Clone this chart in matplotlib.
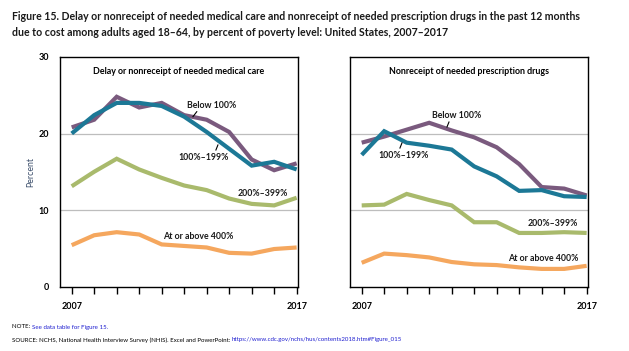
import matplotlib
matplotlib.use("Agg")
import matplotlib.pyplot as plt

plt.rcParams['font.family'] = ['Lato', 'DejaVu Sans']

years = list(range(2007, 2018))

# Delay or nonreceipt of needed medical care
care_below100 = [20.8, 21.8, 24.8, 23.4, 24.0, 22.4, 21.8, 20.2, 16.6, 15.2, 16.1]
care_100_199 = [20.0, 22.4, 24.0, 24.0, 23.6, 22.2, 20.2, 18.0, 15.8, 16.3, 15.3]
care_200_399 = [13.1, 15.0, 16.7, 15.3, 14.2, 13.2, 12.6, 11.5, 10.8, 10.6, 11.6]
care_400 = [5.4, 6.7, 7.1, 6.8, 5.5, 5.3, 5.1, 4.4, 4.3, 4.9, 5.1]

# Nonreceipt of needed prescription drugs
drug_below100 = [18.8, 19.6, 20.5, 21.4, 20.4, 19.5, 18.2, 16.0, 13.0, 12.8, 11.9]
drug_100_199 = [17.2, 20.3, 18.8, 18.4, 17.9, 15.7, 14.4, 12.5, 12.6, 11.8, 11.7]
drug_200_399 = [10.6, 10.7, 12.1, 11.3, 10.6, 8.4, 8.4, 7.0, 7.0, 7.1, 7.0]
drug_400 = [3.1, 4.3, 4.1, 3.8, 3.2, 2.9, 2.8, 2.5, 2.3, 2.3, 2.7]

series_names = ["Below 100%", "100%\u2013199%", "200%\u2013399%", "At or above 400%"]
colors = ["#7A5A7E", "#1C7896", "#A9BA6C", "#F5A75E"]
yticks = [0, 10, 20, 30]
xtick_labels = ["2007", "", "", "", "", "", "", "", "", "", "2017"]

fig = plt.figure(figsize=(6.29, 3.51), dpi=100)
W, H = 629, 351

def make_ax(left_px):
    return fig.add_axes([left_px / W, (H - 286.5) / H, 238 / W, 229.5 / H])

axL = make_ax(60)
axR = make_ax(350)

panels = [
    (axL, [care_below100, care_100_199, care_200_399, care_400],
     "Delay or nonreceipt of needed medical care",
     {0: (2013.24, 23.7), 1: (2012.84, 16.9), 2: (2015.5, 12.2), 3: (2012.61, 6.5)},
     [((2012.56, 22.85), (2012.39, 22.2)), ((2013.50, 18.5), (2013.41, 17.84))]),
    (axR, [drug_below100, drug_100_199, drug_200_399, drug_400],
     "Nonreceipt of needed prescription drugs",
     {0: (2011.22, 22.4), 1: (2008.88, 17.06), 2: (2015.5, 8.17), 3: (2015.06, 3.7)},
     [((2010.88, 21.5), (2010.79, 20.85)), ((2008.79, 18.76), (2008.70, 18.1))]),
]

for i, (ax, data, ttl, lblpos, leaders) in enumerate(panels):
    for s, c in zip(data, colors):
        ax.plot(years, s, color=c, lw=3.0, solid_joinstyle='miter', solid_capstyle='butt', zorder=3)
    ax.set_xlim(2006.48, 2017.06)
    ax.set_ylim(0, 30)
    for g in (10, 20):
        ax.axhline(g, color="#BDBDBD", lw=0.9, zorder=1)
    ax.set_xticks(years)
    ax.set_xticklabels(xtick_labels, fontsize=6.5, fontweight='bold')
    ax.tick_params(axis='x', direction='out', length=5, width=1, pad=6)
    ax.set_yticks(yticks)
    if i == 0:
        ax.set_yticklabels([str(v) for v in yticks], fontsize=6.5, fontweight='bold')
        ax.tick_params(axis='y', length=0, pad=8)
        ax.set_ylabel("Percent", fontsize=6.3, color="#3B4E6B", labelpad=2)
    else:
        ax.set_yticklabels([])
        ax.tick_params(axis='y', length=0)
    for sp in ax.spines.values():
        sp.set_linewidth(1.0)
        sp.set_color("black")
    ax.text(0.5, 0.935, ttl, transform=ax.transAxes, ha='center', va='center',
            fontsize=6.4, fontweight='bold')
    for k, (x, y) in lblpos.items():
        ax.text(x, y, series_names[k], ha='center', va='center', fontsize=6.3,
                fontweight='bold', color="#1a1a1a", zorder=4)
    for (p1, p2) in leaders:
        ax.plot([p1[0], p2[0]], [p1[1], p2[1]], color="black", lw=0.8, zorder=4)

fig.text(12 / W, 1 - 17 / H,
         "Figure 15. Delay or nonreceipt of needed medical care and nonreceipt of needed prescription drugs in the past 12 months",
         fontsize=7.6, fontweight='bold', va='center', ha='left', color="#1a1a1a")
fig.text(12 / W, 1 - 32 / H,
         "due to cost among adults aged 18\u201364, by percent of poverty level: United States, 2007\u20132017",
         fontsize=7.6, fontweight='bold', va='center', ha='left', color="#1a1a1a")

fs_foot = 4.4
t1 = fig.text(12 / W, 1 - 327 / H, "NOTE: ", fontsize=fs_foot, va='center', ha='left', color="black")
fig.canvas.draw()
bb = t1.get_window_extent()
fig.text(bb.x1 / W, 1 - 327 / H, "See data table for Figure 15.", fontsize=fs_foot, va='center', ha='left', color="#2020D0")
t2 = fig.text(12 / W, 1 - 340 / H, "SOURCE: NCHS, National Health Interview Survey (NHIS). Excel and PowerPoint: ",
              fontsize=fs_foot, va='center', ha='left', color="black")
fig.canvas.draw()
bb2 = t2.get_window_extent()
fig.text(bb2.x1 / W, 1 - 340 / H, "https://www.cdc.gov/nchs/hus/contents2018.htm#Figure_015",
         fontsize=fs_foot, va='center', ha='left', color="#2020D0")

fig.savefig("out.png", dpi=100)
